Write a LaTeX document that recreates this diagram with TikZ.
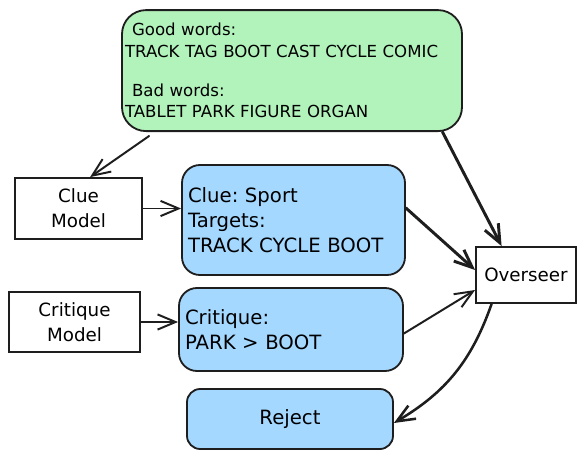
\documentclass[tikz,border=0pt]{standalone}
\usepackage{fontspec}
\setmainfont{DejaVu Sans}
\usepackage{tikz}
\usetikzlibrary{arrows.meta}
\frenchspacing

\definecolor{ink}{HTML}{1E1E1E}
\definecolor{mint}{HTML}{B2F2BB}
\definecolor{sky}{HTML}{A5D8FF}

\tikzset{
	modelbox/.style={draw=ink,line width=1.3pt,align=center,font=\fontsize{13pt}{17.8pt}\selectfont},
	card/.style={draw=ink,fill=sky,line width=1.3pt,rounded corners=0.45cm,align=left,inner xsep=0.15cm,font=\fontsize{14pt}{17.8pt}\selectfont},
	arr/.style={draw=ink,line width=1.4pt,line cap=round,-{Straight Barb[length=0.45cm,width=0.38cm]}},
}

\begin{document}
\begin{tikzpicture}
		\useasboundingbox (0,0) rectangle (14.625,11.475);
		% words
		\node [card,fill=mint,rounded corners=0.6cm,inner xsep=0.075cm,text width=8.35cm,minimum height=3.025cm,font=\fontsize{11.8pt}{15.4pt}\selectfont] (words) at (7.3,9.71) {\hspace*{0.175cm}Good words:\\TRACK TAG BOOT CAST CYCLE COMIC\\[0.42cm]\hspace*{0.175cm}Bad words:\\TABLET PARK FIGURE ORGAN};

		% models
		\node [modelbox,minimum width=3.175cm,minimum height=1.525cm] (cluemodel) at (1.9625,6.2625) {Clue\\Model};
		\node [modelbox,minimum width=3.275cm,minimum height=1.5cm] (critmodel) at (1.8625,3.425) {Critique\\Model};
		\node [modelbox,minimum width=2.5cm,minimum height=1.4cm] (overseer) at (13.15,4.6) {Overseer};

		% outputs
		\node [card,text width=5.275cm,minimum height=2.75cm] (clue) at (7.3375,5.975) {Clue: Sport\\Targets:\\TRACK CYCLE BOOT};
		\node [card,text width=5.3cm,minimum height=2.075cm] (crit) at (7.275,3.2375) {Critique:\\PARK > BOOT};
		\node [card,align=center,rounded corners=0.33cm,minimum width=5.15cm,minimum height=1.5cm] (reject) at (7.25,1.0) {Reject};

		\draw [arr] ([xshift=0.7cm,yshift=-0.1cm]words.south west) to ([xshift=0.29cm]cluemodel.north);
		\draw [arr] (cluemodel.east) to (cluemodel.east -| clue.west);
		\draw [arr] (critmodel.east) to (critmodel.east -| crit.west);
		\draw [arr,line width=2.1pt] ([xshift=-0.51cm]words.south east) to ([xshift=-0.61cm]overseer.north);
		\draw [arr,line width=2.1pt] ([yshift=0.3cm]clue.east) to ([yshift=0.125cm]overseer.west);
		\draw [arr] ([yshift=-0.1cm]crit.east) to ([yshift=-0.375cm]overseer.west);
		\draw [arr,line width=1.8pt] ([xshift=-0.86cm]overseer.south) to [bend left=20] ([yshift=-0.1cm]reject.east);
\end{tikzpicture}
\end{document}
